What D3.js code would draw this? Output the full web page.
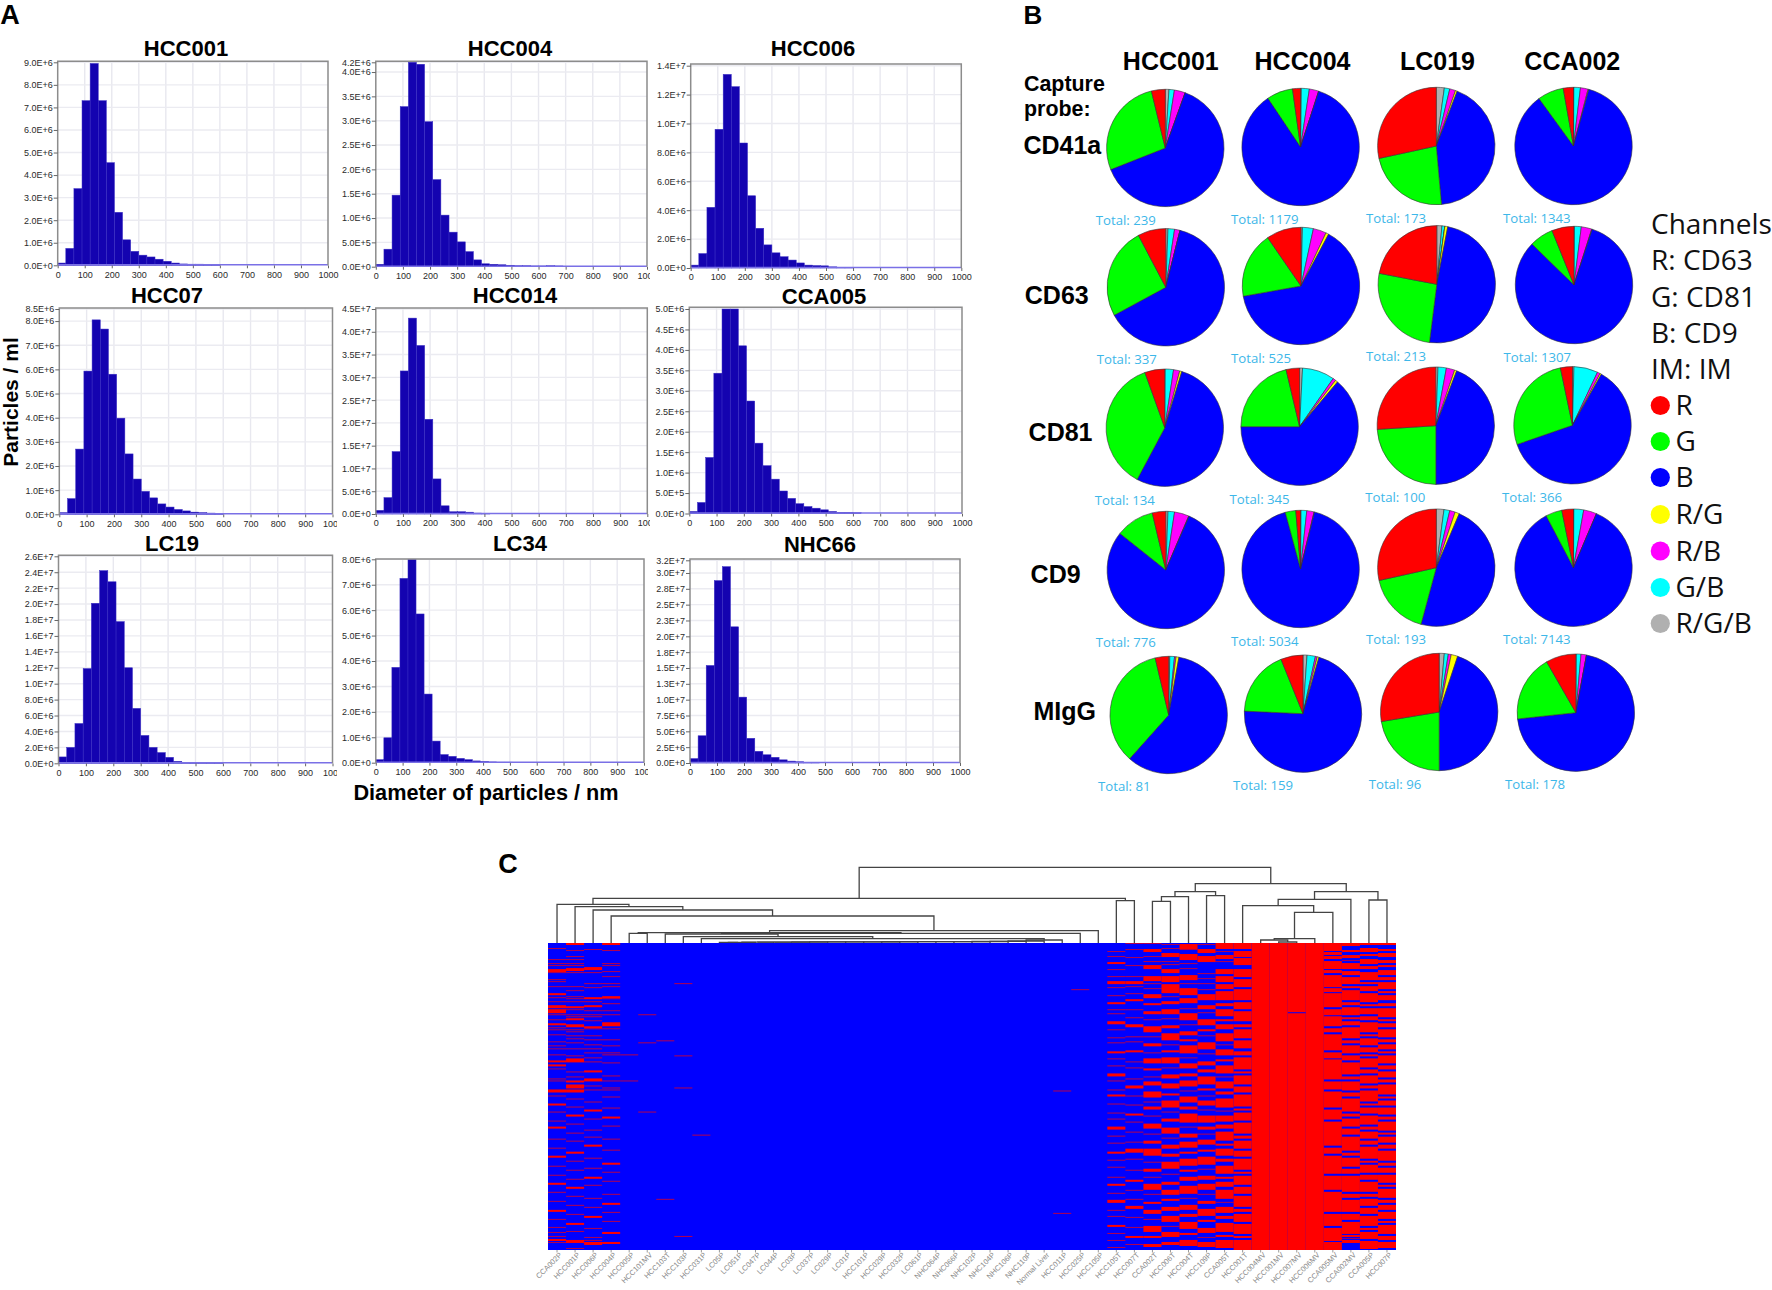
<!DOCTYPE html>
<html><head><meta charset="utf-8">
<style>html,body{margin:0;padding:0;background:#fff}svg{display:block}</style>
<script src="https://cdn.jsdelivr.net/npm/d3@7"></script>
</head><body><svg id="c" width="1772" height="1290"></svg>
<script>
// ---------- DATA: panel A (30 nm bins from 0 nm) ----------
const histNames=["HCC001","HCC004","HCC006","HCC07","HCC014","CCA005","LC19","LC34","NHC66"];
const histHCC001=[.1e6,.75e6,3.4e6,7.3e6,8.95e6,7.3e6,4.55e6,2.35e6,1.13e6,.62e6,.45e6,.37e6,.27e6,.18e6,.1e6,.06e6,.05e6,.05e6,.04e6,.03e6];
const histHCC004=[.05e6,.36e6,1.47e6,3.29e6,4.2e6,4.16e6,2.98e6,1.79e6,1.06e6,.71e6,.51e6,.31e6,.14e6,.06e6,.05e6,.04e6,.03e6,.02e6,.02e6,.015e6,.015e6,.02e6,.015e6];
const histHCC006=[.2e6,1e6,4.2e6,9.6e6,13.4e6,12.55e6,8.65e6,5e6,2.75e6,1.6e6,1.05e6,.78e6,.55e6,.35e6,.2e6,.17e6,.15e6,.08e6,.05e6,.03e6];
const histHCC07=[.07e6,.65e6,2.7e6,5.93e6,8.05e6,7.67e6,5.8e6,3.98e6,2.5e6,1.46e6,.95e6,.68e6,.43e6,.3e6,.2e6,.14e6,.09e6,.07e6,.05e6,.03e6];
const histHCC014=[.08e7,.36e7,1.37e7,3.14e7,4.3e7,3.7e7,2.08e7,.77e7,.18e7,.05e7,.05e7,.04e7,.02e7,.01e7];
const histCCA005=[.05e6,.27e6,1.37e6,3.43e6,5e6,5e6,4.1e6,2.75e6,1.72e6,1.17e6,.84e6,.55e6,.37e6,.24e6,.17e6,.13e6,.09e6,.05e6,.03e6,.03e6,.02e6];
const histLC19=[.8e6,2e6,5e6,11.9e6,20.1e6,24.2e6,22.8e6,17.8e6,12e6,6.9e6,3.5e6,2e6,1.35e6,.75e6,.25e6,.1e6,.1e6,.08e6,.05e6,.05e6];
const histLC34=[.12e6,.98e6,3.75e6,7.25e6,8e6,5.85e6,2.7e6,.85e6,.32e6,.25e6,.17e6,.12e6,.07e6,.05e6,.03e6,.02e6,.02e6];
const histNHC66=[.7e6,4.3e6,15.4e6,28.8e6,31e6,21.5e6,10.4e6,3.9e6,1.85e6,1.3e6,.9e6,.5e6,.3e6,.2e6,.1e6,.05e6];
const histValues=[histHCC001,histHCC004,histHCC006,histHCC07,histHCC014,histCCA005,histLC19,histLC34,histNHC66];
const histYTicks=[
 [0,1e6,2e6,3e6,4e6,5e6,6e6,7e6,8e6,9e6],
 [0,.5e6,1e6,1.5e6,2e6,2.5e6,3e6,3.5e6,4e6,4.2e6],
 [0,2e6,4e6,6e6,8e6,10e6,12e6,14e6],
 [0,1e6,2e6,3e6,4e6,5e6,6e6,7e6,8e6,8.5e6],
 [0,.5e7,1e7,1.5e7,2e7,2.5e7,3e7,3.5e7,4e7,4.5e7],
 [0,.5e6,1e6,1.5e6,2e6,2.5e6,3e6,3.5e6,4e6,4.5e6,5e6],
 [0,2e6,4e6,6e6,8e6,10e6,12e6,14e6,16e6,18e6,20e6,22e6,24e6,26e6],
 [0,1e6,2e6,3e6,4e6,5e6,6e6,7e6,8e6],
 [0,2.5e6,5e6,7.5e6,10e6,12.5e6,15e6,17.5e6,20e6,22.5e6,25e6,27.5e6,30e6,32e6]];
const histXTicks=[0,100,200,300,400,500,600,700,800,900,1000];

// ---------- DATA: panel B ----------
const pieSamples=["HCC001","HCC004","LC019","CCA002"];
const pieProbes=["CD41a","CD63","CD81","CD9","MIgG"];
const sliceNames=["R/G/B","G/B","R/B","R/G","B","G","R"];
const pieCD41a=[[1,1.5,3,0,63.5,27.2,3.8],[.2,2.2,2.6,0,85.6,7.2,2.2],[2.2,1.5,1.6,.5,42.8,23,28.4],[.1,1.8,2.1,.2,85.8,7.2,2.8]];
const pieCD63=[[.6,1.8,1.5,0,63.2,25.2,7.7],[.4,3,3.6,.8,64.4,18.2,9.6],[1.4,.8,0,.8,49,26,22],[.1,1.9,2.9,.1,82.3,6.6,6.1]];
const pieCD81=[[.1,2.3,1.7,.6,53.1,36.7,5.5],[.8,8.9,.8,.7,63.8,21.3,3.7],[.6,2.3,2.3,.6,44.2,24,26],[.4,6.6,.8,.4,61.5,27,3.3]];
const pieCD9=[[.6,1.8,4,.1,79.3,10.6,3.7],[.1,1.6,2,.1,92,2.9,1.3],[2.1,1.6,1.5,1.2,47.8,17.3,28.5],[.1,2.7,3.6,0,85.9,4.5,3.2]];
const pieMIgG=[[.3,1.3,.4,.8,58.8,34.7,3.7],[1.1,2.3,.5,.5,71.3,18.2,6.1],[1.4,1.1,.8,1.8,44.9,22.4,27.6],[.1,1.3,1.5,0,70.4,18.4,8.3]];
const pieValues=[pieCD41a,pieCD63,pieCD81,pieCD9,pieMIgG];
const pieTotals=[[239,1179,173,1343],[337,525,213,1307],[134,345,100,366],[776,5034,193,7143],[81,159,96,178]];
const legendChannels=["Channels","R: CD63","G: CD81","B: CD9","IM: IM"];
const legendItems=["R","G","B","R/G","R/B","G/B","R/G/B"];

// ---------- DATA: panel C ----------
const heatSamples=["CCA002P","HCC001P","HCC006P","HCC004P","HCC005P","HCC101MV","HCC103T","HCC103P","HCC031P","LC05P","LC051P","LC047P","LC044P","LC03P","LC037P","LC029P","LC01P","HCC101P","HCC029P","HCC032P","LC061P","NHC064P","NHC066P","NHC102P","NHC104P","NHC106P","NHC110P","Normal Liver","HCC011P","HCC025P","HCC105P","HCC105T","HCC007T","CCA002T","HCC006T","HCC004T","HCC109P","CCA005T","HCC001T","HCC004MV","HCC001MV","HCC007MV","HCC006MV","CCA005MV","CCA002MV","CCA005P","HCC007P"];
const heatRowCount=306;
// red row runs per sample, as start,length pairs; everything else is blue
const heatRed=[
 [5,1,16,1,20,1,22,1,26,3,29,1,36,1,38,1,43,1,50,2,54,1,58,1,62,3,66,4,71,1,76,1,80,2,84,1,86,1,91,1,98,1,102,1,105,1,111,1,117,2,121,2,125,1,135,1,137,1,146,3,152,1,160,2,168,1,177,1,183,2,195,1,204,1,212,2,222,1,231,1,239,2,248,1,257,1,266,2,275,1,283,1,288,1,292,1,295,2,298,1],
 [0,2,7,1,13,1,16,1,20,1,22,1,25,3,29,1,43,1,47,1,53,1,55,1,58,1,63,2,66,1,71,1,73,1,75,2,81,3,86,1,88,1,92,1,95,1,99,1,105,1,112,1,115,4,128,1,133,1,137,2,141,4,146,3,155,1,163,1,171,2,180,1,189,1,197,1,208,2,217,1,226,1,235,1,243,2,252,1,261,1,270,1,279,2,287,1,296,3,304,1],
 [6,1,24,3,29,1,40,1,44,1,54,2,58,1,62,2,67,1,71,1,73,1,77,1,83,2,85,1,92,1,96,1,101,1,105,1,109,1,114,1,118,1,127,2,135,3,142,1,146,1,158,1,166,2,175,1,186,1,193,1,201,2,214,1,224,1,233,2,241,1,254,1,263,1,272,2,284,1,293,1,296,1,298,3],
 [0,2,7,1,20,1,22,1,28,1,33,1,40,1,43,1,53,2,55,1,60,1,67,1,71,1,79,4,85,1,96,1,102,1,109,1,111,1,119,1,132,1,137,1,144,1,146,1,153,1,164,1,173,2,182,1,195,1,206,1,219,2,228,1,237,1,250,1,259,2,268,1,277,1,288,2,298,2],
 [111,1,137,1],[71,1,99,1,168,1],[97,1,255,1],[40,1,112,1,144,1,292,1],[191,1],
 [],[],[],[],[],[],[],[],[],[],[],[],[],[],[],[],[],[],[],[269,1,147,1],[46,1],[],
 [8,1,13,1,19,2,26,1,33,1,38,3,44,1,52,1,59,2,66,1,70,1,78,3,86,1,94,1,99,1,108,2,115,1,122,1,130,3,137,1,146,1,151,2,160,1,169,1,175,1,183,3,192,1,199,1,208,2,216,1,223,1,233,1,240,2,249,1,256,3,266,1,272,1,281,2,289,1,296,1,303,1],
 [0,1,6,1,14,1,22,1,33,1,38,3,43,1,50,1,56,2,66,1,74,1,81,3,93,1,98,1,107,2,118,1,124,1,135,1,142,3,152,1,161,1,170,2,178,1,188,1,198,1,205,4,215,1,226,1,236,2,246,1,255,1,262,3,273,1,283,1,292,2,300,1],
 [0,1,6,3,13,1,18,1,22,4,33,5,40,1,45,1,51,4,60,2,68,3,76,1,83,6,93,1,100,3,109,1,115,5,125,2,133,1,138,4,148,6,158,1,163,3,172,1,180,5,190,1,197,3,205,7,218,1,225,3,233,1,240,6,250,1,258,2,266,4,275,1,282,6,292,2,300,3],
 [1,1,5,1,10,4,18,1,21,1,26,4,33,6,41,9,53,1,58,3,66,5,75,1,82,3,90,7,101,1,107,2,114,6,124,1,131,4,140,5,150,2,157,7,168,1,175,3,184,6,194,1,201,4,210,3,218,7,230,1,238,3,246,5,255,2,263,4,272,6,282,1,288,5,298,3],
 [1,5,6,1,11,6,20,1,25,1,32,5,40,1,45,7,55,5,65,1,70,7,81,1,88,4,96,2,102,8,114,1,120,5,130,3,137,6,147,1,153,6,163,3,170,9,183,1,190,4,198,6,208,2,215,7,226,2,233,4,242,8,254,1,261,5,270,3,278,7,289,2,296,6],
 [1,1,6,4,13,6,30,1,35,1,40,1,46,1,51,6,62,4,69,1,76,6,86,2,92,1,99,7,110,1,118,4,126,3,133,8,145,2,152,1,157,5,166,1,172,7,183,3,190,1,196,5,206,2,213,8,225,1,232,4,240,6,250,1,257,3,265,7,276,2,284,5,293,1,298,5],
 [0,6,8,1,12,4,18,1,26,5,33,6,41,5,48,9,60,3,66,7,76,2,81,5,90,8,101,1,106,6,116,2,122,8,133,1,138,7,148,3,155,9,167,1,172,6,181,4,188,9,200,2,205,7,215,3,222,8,233,2,238,5,246,9,258,1,263,6,272,3,279,9,291,2,296,8],
 [0,6,8,6,15,7,26,8,36,8,46,11,59,7,68,10,81,3,86,9,97,8,108,4,114,12,128,2,132,9,143,6,151,12,165,2,169,8,179,11,192,3,197,8,207,6,215,11,228,2,232,9,243,7,252,11,265,3,270,8,280,10,292,2,296,10],
 [0,306],[0,306],[0,69,70,236],[0,306],
 [0,8,9,3,13,3,18,8,27,3,32,12,45,4,50,14,66,6,73,10,85,4,91,16,109,6,116,20,138,8,148,16,166,10,178,24,204,6,212,18,232,14,248,20,270,12,284,13,298,8],
 [0,3,7,2,12,3,17,1,20,6,28,4,34,7,43,2,47,10,59,3,64,8,74,2,78,4,84,11,97,3,102,8,112,5,119,12,133,3,138,9,149,4,155,13,170,3,175,8,185,6,193,14,209,3,214,9,225,5,232,16,250,4,256,12,270,6,278,12,291,2,294,1,296,3],
 [0,2,5,4,11,2,16,5,23,3,29,8,39,2,43,5,50,9,61,2,65,6,73,4,79,10,91,2,95,7,104,5,111,2,115,9,126,4,132,8,142,3,147,11,160,2,164,6,172,9,183,3,188,7,197,4,203,12,217,2,221,8,231,5,238,10,250,3,255,7,264,6,272,10,284,2,288,7,297,8],
 [0,2,6,2,10,4,17,3,22,2,27,5,34,3,39,7,48,2,52,5,60,3,65,9,76,2,80,4,86,8,96,3,101,5,108,2,112,8,122,4,128,6,136,3,141,10,153,2,157,5,164,7,173,3,178,9,189,2,193,6,201,4,207,10,219,3,224,5,231,8,241,2,245,9,256,3,261,5,268,7,277,2,281,9,292,4,298,6]
];
// dendrogram: [merge height, left, right]; integers are sample indexes
const chain9to26=[1.6,[1.5,[1.45,[1.4,[1.35,[1.3,[1.25,[1.2,[1.15,[1.1,[1.05,[1,[.95,[.9,[.8,[.7,[.6,9,10],11],12],13],14],15],16],17],18],19],20],21],22],23],24],25],26];
const dendroLeft=[44.7,[38.7,0,[36.3,1,[33,2,[27,3,[12.3,[10.3,[9.7,4,5],[9.7,[9,6,[6.3,7,[4.3,8,[3,[2,chain9to26,27],28]]]],29]],30]]]]],[42.3,31,32]];
const dendroRight=[59.3,[51.3,[46.3,[41.7,33,34],35],[47.3,36,37]],[51.3,[43.7,[37.3,38,[30.7,[4.3,[3,39,[1,40,41]],42],43]],44],[43,45,46]]];
const dendroRoot=[75.7,dendroLeft,dendroRight];

// ---------- LAYOUT ----------
const histLayout=[
 {x0:57.7,x1:328,top:61.3,y0:265.3,yt:62.3,tx:186,ty:48,clip:345},
 {x0:375.8,x1:647,top:61.3,y0:266.7,yt:62.3,tx:510,ty:48,clip:650},
 {x0:690.7,x1:961.3,top:64,y0:268,yt:65.7,tx:813,ty:48,clip:980},
 {x0:59.3,x1:332.5,top:308,y0:514.3,yt:309,tx:167,ty:295,clip:337},
 {x0:375.8,x1:647.3,top:308,y0:514,yt:309,tx:515,ty:295,clip:650},
 {x0:689.3,x1:962,top:307.2,y0:513.5,yt:309,tx:824,ty:296,clip:980},
 {x0:58.5,x1:332.5,top:555.3,y0:763.3,yt:556.3,tx:172,ty:543,clip:337},
 {x0:375.8,x1:644,top:559,y0:762.7,yt:559.3,tx:520,ty:543,clip:648},
 {x0:690,x1:960,top:559,y0:763,yt:560.3,tx:820,ty:544,clip:980}];
const pieCentres=[
 [[1165.3,148],[1300.6,147],[1436.3,146],[1573.5,146]],
 [[1165.8,287.3],[1301,286],[1436.8,284.3],[1574,285]],
 [[1164.8,427.7],[1299.6,426.7],[1435.8,425.7],[1572.5,425.3]],
 [[1165.8,570],[1300.6,569],[1436.3,567.7],[1573.5,567.7]],
 [[1168.7,715],[1303,713.7],[1439.2,712],[1575.9,712.7]]];
const totalPos=[
 [[1095.8,220.7],[1231,219],[1366,218],[1503,218]],
 [[1096.7,359.7],[1231,358.3],[1366,356.7],[1503.5,357]],
 [[1094.8,500],[1229.6,499],[1365.3,497],[1502,497.3]],
 [[1095.8,642],[1231,641],[1366,639.3],[1503,639.3]],
 [[1098,786.7],[1233,785],[1368.7,784],[1505,784.3]]];
const sliceColor={"R":"#ff0000","G":"#00ff00","B":"#0000ff","R/G":"#ffff00","R/B":"#ff00ff","G/B":"#00ffff","R/G/B":"#b0b0b0"};
const sans="'Liberation Sans',Arial,sans-serif", soft="'Open Sans',sans-serif";

const svg=d3.select("#c");
const txt=(x,y,s,size,o={})=>svg.append("text").attr("x",x).attr("y",y).attr("dy","0.35em")
  .attr("font-family",o.f||sans).attr("font-weight",o.w||"bold").attr("font-size",size)
  .attr("text-anchor",o.a||"middle").attr("fill",o.c||"#000").text(s);

// panel letters
txt(10,15,"A",27); txt(1033,15,"B",26); txt(508,864,"C",27);

// ---------- Panel A ----------
const expFmt=v=>v.toExponential(1).replace("e","E");
histNames.forEach((name,k)=>{
  const L=histLayout[k], vals=histValues[k], yt=histYTicks[k];
  const x=d3.scaleLinear([0,1000],[L.x0,L.x1]);
  const y=d3.scaleLinear([0,d3.max(yt)],[L.y0,L.yt]);
  const cid="clip"+k, aid="axclip"+k;
  const defs=svg.append("defs");
  defs.append("clipPath").attr("id",cid).append("rect").attr("x",L.x0).attr("y",L.top).attr("width",L.x1-L.x0).attr("height",L.y0-L.top+2);
  defs.append("clipPath").attr("id",aid).append("rect").attr("x",L.x0-40).attr("y",L.y0).attr("width",L.clip-L.x0+40).attr("height",26);
  const g=svg.append("g");
  // grid
  g.append("g").selectAll("line").data(histXTicks.slice(1,-1)).join("line")
    .attr("x1",d=>x(d)).attr("x2",d=>x(d)).attr("y1",L.top).attr("y2",L.y0).attr("stroke","#e8e8ef").attr("stroke-width",1.4);
  g.append("g").selectAll("line").data(yt.slice(1)).join("line")
    .attr("x1",L.x0).attr("x2",L.x1).attr("y1",d=>y(d)).attr("y2",d=>y(d)).attr("stroke","#ebebf1").attr("stroke-width",1.4);
  // bars
  g.append("g").attr("clip-path",`url(#${cid})`).selectAll("rect").data(vals).join("rect")
    .attr("x",(d,i)=>x(i*30)).attr("width",(d,i)=>x((i+1)*30)-x(i*30))
    .attr("y",d=>y(d)).attr("height",d=>L.y0-y(d))
    .attr("fill","#1403b0").attr("stroke","#3a2ec4").attr("stroke-width",.5);
  // base line
  g.append("line").attr("x1",L.x0).attr("x2",L.x1).attr("y1",L.y0-.5).attr("y2",L.y0-.5).attr("stroke","#7a70e6").attr("stroke-width",1.6);
  // frame
  g.append("path").attr("d",`M${L.x0},${L.y0}V${L.top}H${L.x1}V${L.y0}`).attr("fill","none").attr("stroke","#8c8c8c").attr("stroke-width",1.5);
  // axes
  const ax=g.append("g").attr("clip-path",`url(#${aid})`);
  const xa=ax.append("g").attr("transform",`translate(0,${L.y0})`)
    .call(d3.axisBottom(x).tickValues(histXTicks).tickSize(3).tickPadding(3).tickFormat(d3.format("d")));
  const ya=g.append("g").attr("transform",`translate(${L.x0},0)`)
    .call(d3.axisLeft(y).tickValues(yt).tickSize(4).tickPadding(1).tickFormat(expFmt));
  [xa,ya].forEach(a=>{
    a.select(".domain").remove();
    a.selectAll("text").attr("font-family",sans).attr("font-size",9).attr("fill","#2a2a2a");
    a.selectAll("line").attr("stroke","#666");
  });
  txt(L.tx,L.ty,name,22);
});
svg.append("text").attr("transform","translate(11,402) rotate(-90)").attr("dy","0.35em").attr("text-anchor","middle")
  .attr("font-family",sans).attr("font-weight","bold").attr("font-size",21).text("Particles / ml");
txt(486,792,"Diameter of particles / nm",21.7);

// ---------- Panel B ----------
const pie=d3.pie().sort(null).value(d=>d);
const arc=d3.arc().innerRadius(0).outerRadius(58.7);
pieProbes.forEach((p,r)=>{
  pieSamples.forEach((s,c)=>{
    const [cx,cy]=pieCentres[r][c];
    const g=svg.append("g").attr("transform",`translate(${cx},${cy})`);
    g.selectAll("path").data(pie(pieValues[r][c])).join("path").attr("d",arc)
      .attr("fill",(d,i)=>sliceColor[sliceNames[i]]).attr("stroke","#333").attr("stroke-width",.6);
    const [tx,ty]=totalPos[r][c];
    txt(tx,ty,"Total: "+pieTotals[r][c],13.2,{f:soft,w:"normal",a:"start",c:"#3db7e9"});
  });
});
const headX=[1170.8,1302.5,1437.5,1572.3];
pieSamples.forEach((s,i)=>txt(headX[i],61.7,s,25));
txt(1024,83.3,"Capture",21.4,{a:"start"});
txt(1024,109,"probe:",21.4,{a:"start"});
const probeLabelPos=[[1023.4,145.7],[1024.8,295],[1028.6,432.7],[1030.6,574.3],[1033.4,711.7]];
pieProbes.forEach((p,i)=>txt(probeLabelPos[i][0],probeLabelPos[i][1],p,25,{a:"start"}));
const chanY=[224,260,296.7,332.7,368.7];
legendChannels.forEach((s,i)=>txt(1651,chanY[i],s,28,{f:soft,w:"normal",a:"start",c:"#111"}));
const legY=[405.5,441.5,477.5,514.5,551,587.5,623.5];
legendItems.forEach((s,i)=>{
  svg.append("circle").attr("cx",1660.3).attr("cy",legY[i]).attr("r",9.6).attr("fill",sliceColor[s]);
  txt(1675.5,legY[i],s,28,{f:soft,w:"normal",a:"start",c:"#111"});
});

// ---------- Panel C ----------
const hx=d3.scaleBand(d3.range(heatSamples.length),[548,1396]);
const hy=d3.scaleLinear([0,heatRowCount],[943,1250]);
const dy=d3.scaleLinear([0,75.7],[943,867.3]);
svg.append("rect").attr("x",hx.range()[0]).attr("y",hy(0)).attr("width",hx.range()[1]-hx.range()[0]).attr("height",hy(heatRowCount)-hy(0)).attr("fill","#0000ff");
heatRed.forEach((bands,c)=>{
  for(let i=0;i<bands.length;i+=2){
    svg.append("rect").attr("x",hx(c)).attr("width",hx.bandwidth()).attr("y",hy(bands[i])).attr("height",hy(bands[i+1])-hy(0))
      .attr("fill","#ff0000").attr("fill-opacity",bands[i+1]===1?.7:1);
  }
});
const dendroG=svg.append("g").attr("fill","none").attr("stroke","#444").attr("stroke-width",1.3);
function drawNode(n){
  if(typeof n==="number") return {x:hx(n)+hx.bandwidth()/2,h:0};
  const a=drawNode(n[1]), b=drawNode(n[2]);
  dendroG.append("path").attr("d",`M${a.x},${dy(a.h)}V${dy(n[0])}H${b.x}V${dy(b.h)}`);
  return {x:(a.x+b.x)/2,h:n[0]};
}
drawNode(dendroRoot);
const hAxis=svg.append("g").attr("transform","translate(0,1250)")
  .call(d3.axisBottom(hx).tickSize(2.5).tickFormat(i=>heatSamples[i]));
hAxis.select(".domain").remove();
hAxis.selectAll("line").attr("stroke","#999");
hAxis.selectAll("text").attr("font-family",sans).attr("font-size",7.5).attr("fill","#888")
  .attr("text-anchor","end").attr("transform","translate(2,2) rotate(-45)").attr("x",0).attr("y",5).attr("dy",0);
</script></body></html>
